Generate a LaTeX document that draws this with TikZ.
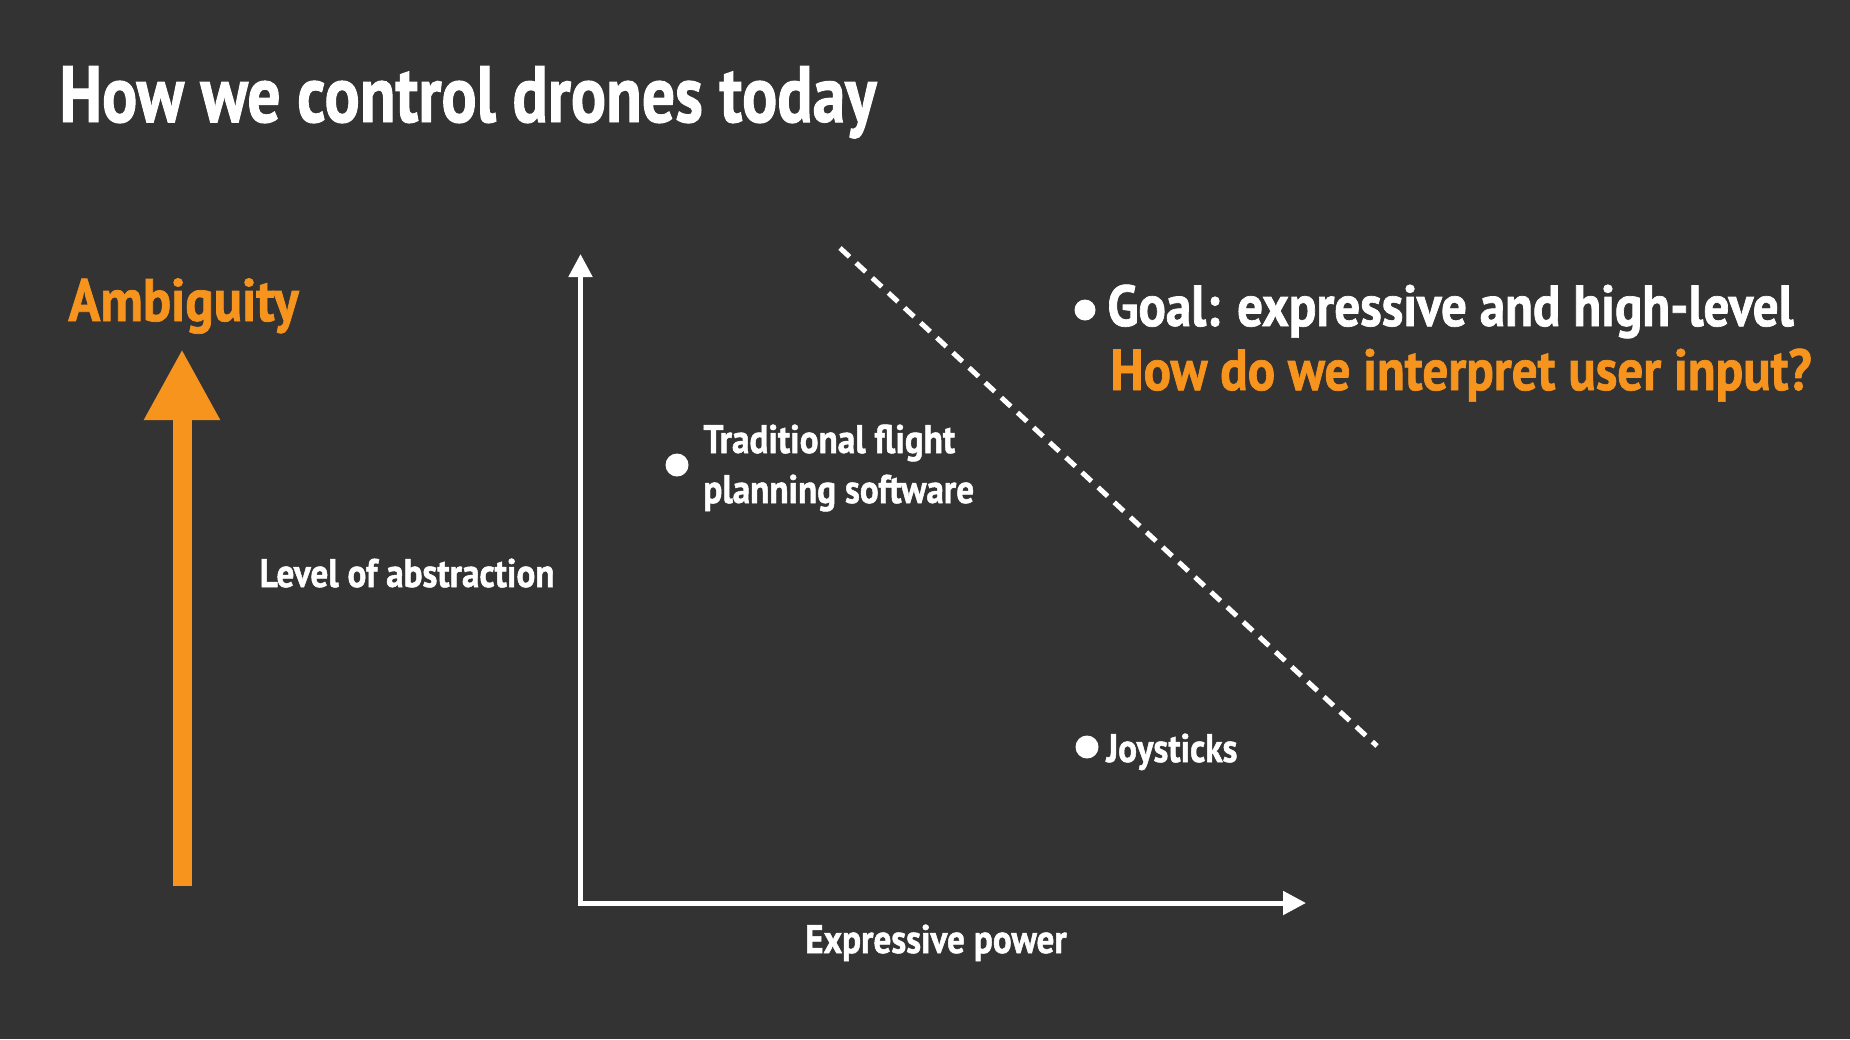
\documentclass[tikz,border=0pt]{standalone}
\usepackage{fontspec}
\setmainfont{PT Sans}[FakeStretch=0.88, FakeBold=1.2]
\newfontfamily\headfont{PT Sans}[FakeStretch=0.82, FakeBold=1.2]
\usetikzlibrary{arrows.meta}
\definecolor{bg}{RGB}{51,51,51}
\definecolor{accent}{RGB}{247,148,30}
\begin{document}
\begin{tikzpicture}[x=0.5pt,y=-0.5pt,
  txt/.style={inner sep=0pt, text=white, font=\bfseries\fontsize{20}{25}\selectfont},
  bigtxt/.style={inner sep=0pt, text=white, font=\bfseries\fontsize{29}{34}\selectfont},
  dot/.style={circle, fill=white, inner sep=0pt, minimum size=11.5pt},
  axis/.style={draw=white, line width=2.5pt,
    {Triangle[length=11.5pt,width=11.5pt]}-{Triangle[length=11.5pt,width=11.5pt]}},
  frontier/.style={draw=white, line width=2.5pt, dash pattern=on 6.5pt off 4.5pt},
  bigarrow/.style={draw=accent, line width=9.5pt,
    -{Triangle[length=35.5pt,width=35.5pt]}}]
  % canvas
  \fill[bg] (0,0) rectangle (1850,1039);
  \useasboundingbox (0,0) rectangle (1850,1039);

  % heading
  \node[inner sep=0pt, text=white, anchor=base west,
        font=\headfont\bfseries\fontsize{40}{46}\selectfont] (title) at (59,122)
        {How we control drones today};

  % ambiguity scale
  \node[inner sep=0pt, text=accent, anchor=base west,
        font=\bfseries\fontsize{30}{36}\selectfont] (amb) at (68,321) {Ambiguity};
  \coordinate (ambfoot) at (182,886);
  \coordinate (ambtip) at (182,349);
  \draw[bigarrow] (ambfoot) -- (ambtip);

  % axes
  \coordinate (origin) at (580.5,903);
  \coordinate (ytip) at (580.5,254);
  \coordinate (xtip) at (1306,903);
  \draw[axis, line join=miter] (ytip) -- (origin) -- (xtip);
  \node[txt, anchor=base east] (ylab) at (555,587) {Level of abstraction};
  \node[txt, anchor=base] (xlab) at (936,953) {Expressive power};

  % frontier
  \coordinate (fa) at (840,248);
  \coordinate (fb) at (1377,746);
  \draw[frontier] (fa) -- (fb);

  % data points
  \node[dot] (trad) at (677,465) {};
  \node[txt, anchor=base west, align=left] (tradlab) at (703,503)
        {Traditional flight\\planning software};
  \node[dot] (joy) at (1087,747) {};
  \node[txt, anchor=base west] (joylab) at (1106,762) {Joysticks};

  % goal
  \node[dot, minimum size=10.5pt] (goal) at (1085,310) {};
  \node[bigtxt, anchor=base west] (goallab) at (1107,326)
        {Goal: expressive and high-level};
  \node[bigtxt, text=accent, anchor=base west] (question) at (1110,390)
        {How do we interpret user input?};
\end{tikzpicture}
\end{document}
